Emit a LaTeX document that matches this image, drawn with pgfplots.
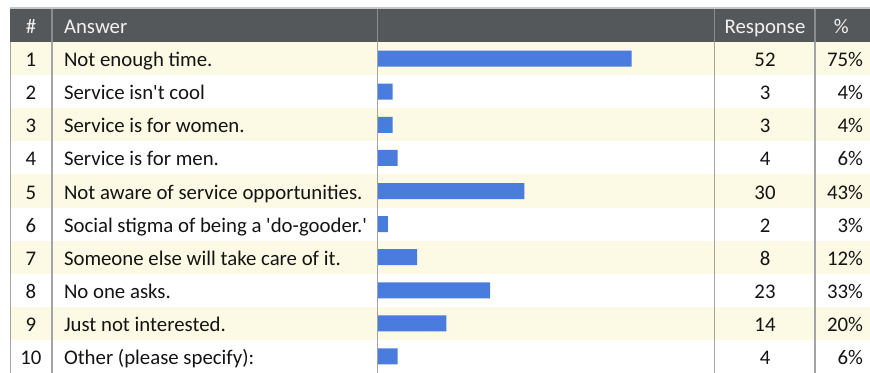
\documentclass[border=0pt]{standalone}
\usepackage{pgfplots}
\usepackage{pgfplotstable}
\pgfplotsset{compat=1.18}
\usepackage{fontspec}
\setmainfont{Carlito}
\newfontfamily\cfont{Carlito}
\definecolor{cream}{HTML}{FCF9E4}
\definecolor{headgray}{HTML}{55585A}
\definecolor{headline}{HTML}{8A8C8E}
\definecolor{bodyline}{HTML}{A4A4A4}
\definecolor{barblue}{HTML}{4A7CDE}
\definecolor{headtext}{HTML}{F2F2F2}

\pgfplotstableread[col sep=comma]{
idx,answer,count,pct
1,Not enough time.,52,75
2,Service isn't cool,3,4
3,Service is for women.,3,4
4,Service is for men.,4,6
5,Not aware of service opportunities.,30,43
6,Social stigma of being a 'do-gooder.',2,3
7,Someone else will take care of it.,8,12
8,No one asks.,23,33
9,Just not interested.,14,20
10,Other (please specify):,4,6
}\data

\begin{document}
\begin{tikzpicture}[
  cell/.style={inner sep=0pt, outer sep=0pt, yshift=-8bp, text=black!92,
    font=\cfont\fontsize{20.8bp}{24bp}\selectfont},
  hcell/.style={inner sep=0pt, outer sep=0pt, yshift=-8bp, text=headtext,
    font=\cfont\fontsize{20.8bp}{24bp}\selectfont}]
\begin{axis}[
  at={(0,0)}, anchor=north west,
  width=860bp, height=364bp, scale only axis,
  xmin=-75.44, xmax=100.86, ymin=-0.5, ymax=10.5, y dir=reverse,
  hide axis, clip=false, set layers,
]
\begin{pgfonlayer}{axis background}
  \fill[cream] (axis cs:-75.44,0.5) rectangle (axis cs:100.86,1.5);
  \fill[cream] (axis cs:-75.44,2.5) rectangle (axis cs:100.86,3.5);
  \fill[cream] (axis cs:-75.44,4.5) rectangle (axis cs:100.86,5.5);
  \fill[cream] (axis cs:-75.44,6.5) rectangle (axis cs:100.86,7.5);
  \fill[cream] (axis cs:-75.44,8.5) rectangle (axis cs:100.86,9.5);
  \fill[headgray] (axis cs:-75.44,-0.5) rectangle (axis cs:100.86,0.5);
\end{pgfonlayer}
% top border
\draw[line width=1.5bp, black!22] ([yshift=0.8bp]axis cs:-75.44,-0.5) -- ([yshift=0.8bp]axis cs:100.86,-0.5);
% header separators
\draw[line width=1.5bp, headline] (axis cs:-66.83,-0.5) -- (axis cs:-66.83,0.5);
\draw[line width=1.5bp, headline] (axis cs:-0.15,-0.5) -- (axis cs:-0.15,0.5);
\draw[line width=1.5bp, headline] (axis cs:69.0,-0.5) -- (axis cs:69.0,0.5);
\draw[line width=1.5bp, headline] (axis cs:89.59,-0.5) -- (axis cs:89.59,0.5);
% body separators
\draw[line width=1.5bp, bodyline] (axis cs:-75.3,0.5) -- (axis cs:-75.3,10.5);
\draw[line width=1.5bp, bodyline] (axis cs:-66.83,0.5) -- (axis cs:-66.83,10.5);
\draw[line width=1.5bp, bodyline] (axis cs:-0.15,0.5) -- (axis cs:-0.15,10.5);
\draw[line width=1.5bp, bodyline] (axis cs:69.0,0.5) -- (axis cs:69.0,10.5);
\draw[line width=1.5bp, bodyline] (axis cs:89.59,0.5) -- (axis cs:89.59,10.5);
% header text
\node[hcell, anchor=base] at (axis cs:-71.14,0) {\#};
\node[hcell, anchor=base west] at (axis cs:-64.37,0) {Answer};
\node[hcell, anchor=base] at (axis cs:79.34,0) {Response};
\node[hcell, anchor=base] at (axis cs:95.0,0) {\%};
% bars
\addplot[xbar, fill=barblue, draw=none, bar width=16bp] table[x=count, y=idx] {\data};
% body text
\pgfplotsinvokeforeach{0,1,2,3,4,5,6,7,8,9}{%
  \pgfplotstablegetelem{#1}{idx}\of\data \let\vidx\pgfplotsretval
  \pgfplotstablegetelem{#1}{answer}\of\data \let\vans\pgfplotsretval
  \pgfplotstablegetelem{#1}{count}\of\data \let\vcnt\pgfplotsretval
  \pgfplotstablegetelem{#1}{pct}\of\data \let\vpct\pgfplotsretval
  \edef\temp{%
    \noexpand\node[cell, anchor=base] at (axis cs:-71.14,\vidx) {\vidx};
    \noexpand\node[cell, anchor=base west] at (axis cs:-64.37,\vidx) {\vans};
    \noexpand\node[cell, anchor=base] at (axis cs:79.34,\vidx) {\vcnt};
    \noexpand\node[cell, anchor=base east] at (axis cs:99.43,\vidx) {\vpct\noexpand\%};
  }\temp
}
\end{axis}
\pgfresetboundingbox
\useasboundingbox (-10bp,9bp) rectangle (860bp,-364bp);
\end{tikzpicture}
\end{document}
